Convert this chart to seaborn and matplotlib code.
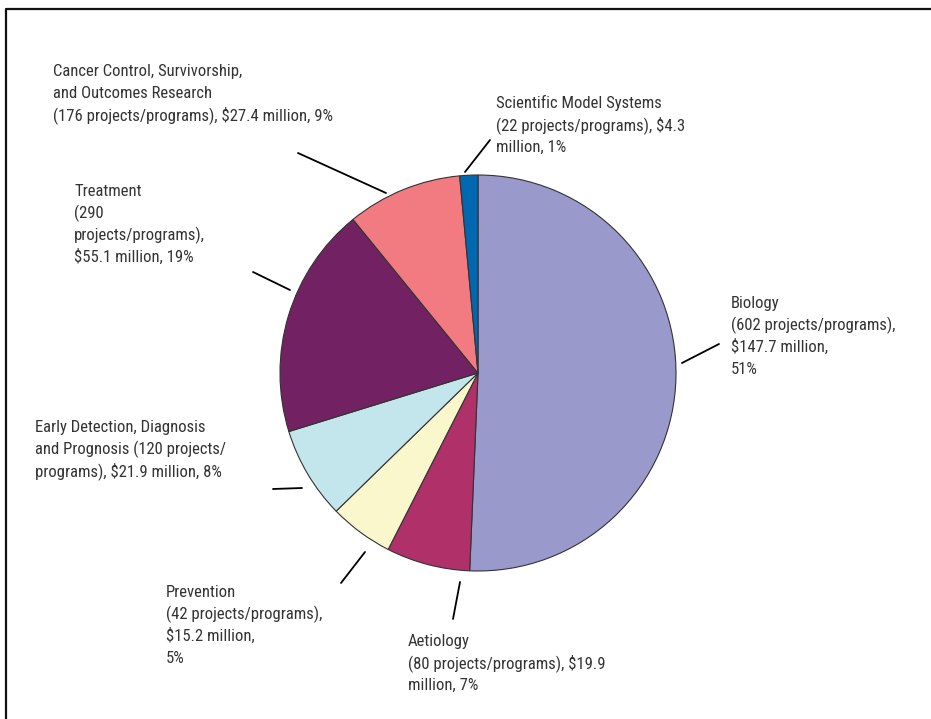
import matplotlib
matplotlib.use("Agg")
import matplotlib.pyplot as plt
from matplotlib import font_manager
import seaborn as sns

# data: funding by research area (in $ million), going clockwise from the top
areas = ["Biology", "Aetiology", "Prevention", "Early Detection", "Treatment",
         "Cancer Control", "Scientific Model Systems"]
funding = [147.7, 19.9, 15.2, 21.9, 55.1, 27.4, 4.3]
projects = [602, 80, 42, 120, 290, 176, 22]
shares = [51, 7, 5, 8, 19, 9, 1]
colors = ["#9999cc", "#b0306a", "#faf7cc", "#c2e6ec", "#722163", "#f27b81", "#0067b1"]

labels = [
    "Biology\n(602 projects/programs),\n$147.7 million,\n51%",
    "Aetiology\n(80 projects/programs), $19.9\nmillion, 7%",
    "Prevention\n(42 projects/programs),\n$15.2 million,\n5%",
    "Early Detection, Diagnosis\nand Prognosis (120 projects/\nprograms), $21.9 million, 8%",
    "Treatment\n(290\nprojects/programs),\n$55.1 million, 19%",
    "Cancer Control, Survivorship,\nand Outcomes Research\n(176 projects/programs), $27.4 million, 9%",
    "Scientific Model Systems\n(22 projects/programs), $4.3\nmillion, 1%",
]

# layout in pixels (top-left origin): text left x + first baseline, leader line ends
text_pos = [(731, 308), (408, 646), (166, 597), (35, 432), (74, 196), (53, 76), (496, 108)]
leaders = [((682, 363), (719, 344)), ((460, 582), (453, 619)), ((365, 552), (341, 583)),
           ((302, 488), (273, 489)), ((290, 290), (253, 272)), ((386, 193), (298, 153)),
           ((490, 140), (465, 172))]
line_gap = 22

W, H = 931, 719
sns.set_style("white")

# narrow sans font if one is there
installed = {f.name for f in font_manager.fontManager.ttflist}
fam = "DejaVu Sans"
for cand in ["Liberation Sans Narrow", "Roboto Condensed", "DejaVu Sans Condensed",
             "Open Sans Condensed"]:
    if cand in installed:
        fam = cand
        break
plt.rcParams["font.family"] = [fam, "DejaVu Sans"]

fig = plt.figure(figsize=(W / 100, H / 100), dpi=100)
ax = fig.add_axes([0, 0, 1, 1])

ax.pie(funding, colors=sns.color_palette(colors), startangle=90, counterclock=False,
       center=(478, H - 373), radius=198,
       wedgeprops=dict(edgecolor="#333333", linewidth=0.8))

for (x, y), txt in zip(text_pos, labels):
    for i, line in enumerate(txt.split("\n")):
        ax.text(x, H - (y + i * line_gap), line, ha="left", va="baseline",
                fontsize=12, color="#333333")

for (x0, y0), (x1, y1) in leaders:
    ax.plot([x0, x1], [H - y0, H - y1], color="black", lw=1.3)

# frame around the figure (only left and top edges fall inside the picture)
ax.plot([6, 6, W + 5], [-5, H - 9, H - 9], color="#111111", lw=1.6, clip_on=False)

ax.set_xlim(0, W)
ax.set_ylim(0, H)
ax.set_aspect("equal")
ax.axis("off")

fig.savefig("out.png", dpi=100, facecolor="white")
